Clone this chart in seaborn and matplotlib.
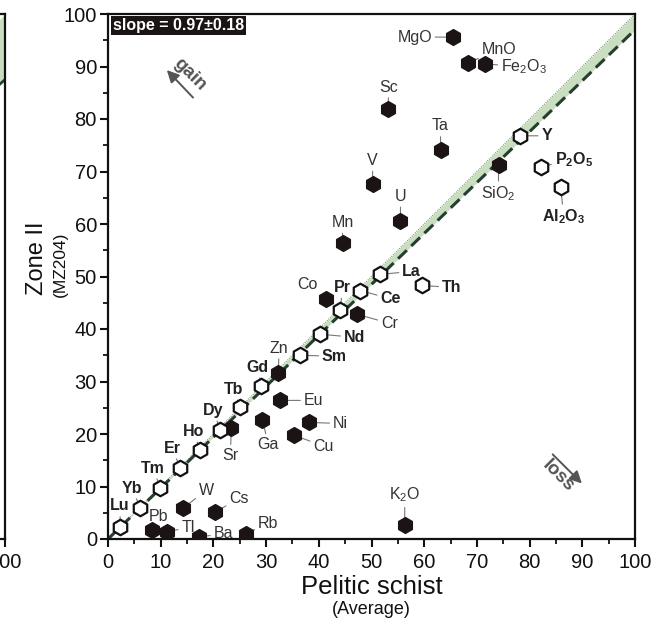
import numpy as np
import pandas as pd
import matplotlib
matplotlib.use("Agg")
import matplotlib.pyplot as plt
import seaborn as sns

# ---------------------------------------------------------------------------
# Isocon data: average pelitic schist (x) versus Zone II sample MZ204 (y)
# ---------------------------------------------------------------------------
elements = ["Lu", "Yb", "Tm", "Er", "Ho", "Dy", "Tb", "Gd", "Sm", "Nd", "Pr",
            "Ce", "La", "Y", "Th", "P2O5", "Al2O3",
            "MgO", "MnO", "Fe2O3", "Sc", "Ta", "V", "U", "Mn", "SiO2", "Co",
            "Cr", "Zn", "Eu", "Ni", "Ga", "Cu", "Sr", "W", "Cs", "Pb", "Tl",
            "Ba", "Rb", "K2O"]
pelitic_schist = [2.3, 6.1, 9.9, 13.7, 17.5, 21.3, 25.1, 29.1, 36.5, 40.3, 44.1,
                  47.9, 51.7, 78.1, 59.5, 82.1, 85.9,
                  65.4, 68.3, 71.5, 53.2, 63.1, 50.2, 55.5, 44.5, 74.1, 41.3,
                  47.3, 32.3, 32.7, 38.2, 29.3, 35.2, 23.4, 14.3, 20.3, 8.4, 11.2,
                  17.3, 26.2, 56.3]
zone_ii = [2.3, 5.9, 9.7, 13.5, 16.9, 20.7, 25.1, 29.1, 35.0, 39.0, 43.7,
           47.3, 50.4, 76.8, 48.3, 70.9, 67.1,
           95.6, 90.7, 90.5, 81.9, 74.1, 67.7, 60.5, 56.3, 71.3, 45.8,
           42.8, 31.6, 26.4, 22.2, 22.6, 19.8, 21.1, 5.9, 5.1, 1.7, 1.3,
           0.4, 0.95, 2.7]
group = ["immobile"] * 17 + ["mobile"] * 24

# isocon slope and the constant-mass reference slope bounding the shaded band
isocon_slope = 0.97
reference_slope = 1.0
# neighbouring panel (only its right edge is in view)
neighbour_isocon_slope = 0.875

display_names = {
    "P2O5": r"P$_\mathbf{2}$O$_\mathbf{5}$",
    "Al2O3": r"Al$_\mathbf{2}$O$_\mathbf{3}$",
    "Fe2O3": r"Fe$_2$O$_3$",
    "SiO2": r"SiO$_2$",
    "K2O": r"K$_2$O",
}

# label placement (pixel offsets from each marker)
label_offsets = {
    "Lu": (0, 21), "Yb": (-8, 20), "Tm": (-7, 20), "Er": (-8, 20),
    "Ho": (-7, 19), "Dy": (-7, 20), "Tb": (-7, 18), "Gd": (-4, 19),
    "Sm": (34, -1), "Nd": (34, -3), "Pr": (2, 22), "Ce": (30, -8),
    "La": (31, 3), "Y": (27, 0), "Th": (30, -2), "P2O5": (33, 7),
    "Al2O3": (3, -30), "MgO": (-38, 0), "MnO": (31, 13), "Fe2O3": (39, -3),
    "Sc": (0, 22), "Ta": (0, 24), "V": (0, 23), "U": (0, 25), "Mn": (0, 21),
    "SiO2": (0, -29), "Co": (-18, 14), "Cr": (32, -9), "Zn": (1, 25),
    "Eu": (33, 0), "Ni": (31, -1), "Ga": (6, -24), "Cu": (30, -11),
    "Sr": (-1, -27), "W": (23, 18), "Cs": (24, 14), "Pb": (6, 14),
    "Tl": (21, 5), "Ba": (24, 3), "Rb": (22, 11), "K2O": (0, 30),
}

df = pd.DataFrame({"element": elements, "schist": pelitic_schist,
                   "zone": zone_ii, "group": group})

# ---------------------------------------------------------------------------
sns.set_theme(style="ticks")
plt.rcParams["font.family"] = ["Liberation Sans", "DejaVu Sans"]
plt.rcParams["mathtext.fontset"] = "custom"
plt.rcParams["mathtext.rm"] = "Liberation Sans"
plt.rcParams["mathtext.it"] = "Liberation Sans"
plt.rcParams["mathtext.bf"] = "Liberation Sans:bold"
plt.rcParams["mathtext.default"] = "rm"

W, H = 654, 627
fig = plt.figure(figsize=(W / 100, H / 100), dpi=100)
fig.patch.set_facecolor("white")

ax_l, ax_r, ax_t, ax_b = 108, 635, 14, 539
pos = [ax_l / W, 1 - ax_b / H, (ax_r - ax_l) / W, (ax_b - ax_t) / H]
ax = fig.add_axes(pos)

band_color = "#c9ddbf"
line_color = "#22402a"
xs = np.linspace(0, 100, 200)


def style_axes(a):
    a.set_xlim(0, 100)
    a.set_ylim(0, 100)
    for s in a.spines.values():
        s.set_linewidth(1.6)
        s.set_color("#111111")
    a.set_xticks(np.arange(0, 101, 10))
    a.set_yticks(np.arange(0, 101, 10))
    a.set_xticks(np.arange(5, 100, 10), minor=True)
    a.set_yticks(np.arange(5, 100, 10), minor=True)
    a.tick_params(which="major", direction="out", length=6, width=1.5,
                  labelsize=14.5, colors="#111111")
    a.tick_params(axis="x", which="major", pad=4)
    a.tick_params(axis="y", which="major", pad=2)
    a.tick_params(which="minor", direction="out", length=3.5, width=1.3,
                  colors="#111111")
    a.set_xlabel("")
    a.set_ylabel("")
    a.set_facecolor("white")


# neighbouring panel, mostly outside the figure on the left
nb_w = ax_r - ax_l
ax0 = fig.add_axes([(5 - nb_w) / W, pos[1], nb_w / W, pos[3]])
ax0.fill_between(xs, neighbour_isocon_slope * xs, reference_slope * xs,
                 color=band_color, lw=0, zorder=1)
ax0.plot(xs, neighbour_isocon_slope * xs, color=line_color, lw=2,
         ls=(0, (4, 2)), zorder=2)
style_axes(ax0)
ax0.set_xticks([100])
ax0.set_xticks([], minor=True)
ax0.set_yticks([])
ax0.set_yticks([], minor=True)

# isocon band and lines
ax.fill_between(xs, isocon_slope * xs, reference_slope * xs,
                color=band_color, lw=0, zorder=1)
ax.plot(xs, reference_slope * xs, color="#8a8a8a", lw=0.8, ls=(0, (1, 1)),
        zorder=2)
ax.plot(xs, isocon_slope * xs, color=line_color, lw=2.2, ls=(0, (4, 2)),
        zorder=2)

# element markers
sns.scatterplot(data=df[df.group == "mobile"], x="schist", y="zone",
                marker="h", s=130, color="#1c1414", edgecolor="#1c1414",
                linewidth=1.0, ax=ax, zorder=5, legend=False)
sns.scatterplot(data=df[df.group == "immobile"], x="schist", y="zone",
                marker="h", s=125, color="white", edgecolor="#111111",
                linewidth=1.6, ax=ax, zorder=5, legend=False)

# labels with leader lines
for el, xv, yv, g in zip(elements, pelitic_schist, zone_ii, group):
    dx, dy = label_offsets[el]
    txt = display_names.get(el, el)
    bold = g == "immobile"
    ax.annotate(txt, xy=(xv, yv), xytext=(dx, dy), textcoords="offset pixels",
                ha="center", va="center", fontsize=11.5,
                fontweight="bold" if bold else "normal",
                color="#222222" if bold else "#333333", zorder=4,
                arrowprops=dict(arrowstyle="-", color="#777777", lw=0.8,
                                shrinkA=0, shrinkB=0))

style_axes(ax)

# slope annotation
ax.text(0.01, 0.993, "slope = 0.97\u00b10.18", transform=ax.transAxes,
        ha="left", va="top", fontsize=11.5, fontweight="bold", color="white",
        bbox=dict(boxstyle="square,pad=0.12", fc="#1a1414", ec="none"),
        zorder=6)

# gain / loss indicators
ax.annotate("", xy=(10.8, 89.7), xytext=(16.5, 83.7),
            arrowprops=dict(arrowstyle="-|>,head_length=0.6,head_width=0.3",
                            color="#555555", lw=1.4), zorder=6)
ax.text(15.6, 88.4, "gain", rotation=-45, ha="center", va="center",
        fontsize=13.5, fontweight="bold", color="#555555", zorder=6,
        rotation_mode="anchor")
ax.annotate("", xy=(90.3, 10.2), xytext=(84.0, 16.5),
            arrowprops=dict(arrowstyle="-|>,head_length=0.6,head_width=0.3",
                            color="#555555", lw=1.4), zorder=6)
ax.text(85.4, 11.9, "loss", rotation=-45, ha="center", va="center",
        fontsize=13.5, fontweight="bold", color="#555555", zorder=6,
        rotation_mode="anchor")

# axis titles
cx = (ax_l + ax_r) / 2 / W
fig.text(cx, 1 - 587 / H, "Pelitic schist", ha="center", va="center",
         fontsize=18.5, color="#111111")
fig.text(cx, 1 - 610 / H, "(Average)", ha="center", va="center",
         fontsize=13, color="#111111")
fig.text(37 / W, 1 - 258 / H, "Zone II", ha="center", va="center",
         rotation=90, fontsize=17, color="#111111")
fig.text(60 / W, 1 - 264 / H, "(MZ204)", ha="center", va="center",
         rotation=90, fontsize=12.5, color="#111111")

fig.savefig("out.png", dpi=100)
